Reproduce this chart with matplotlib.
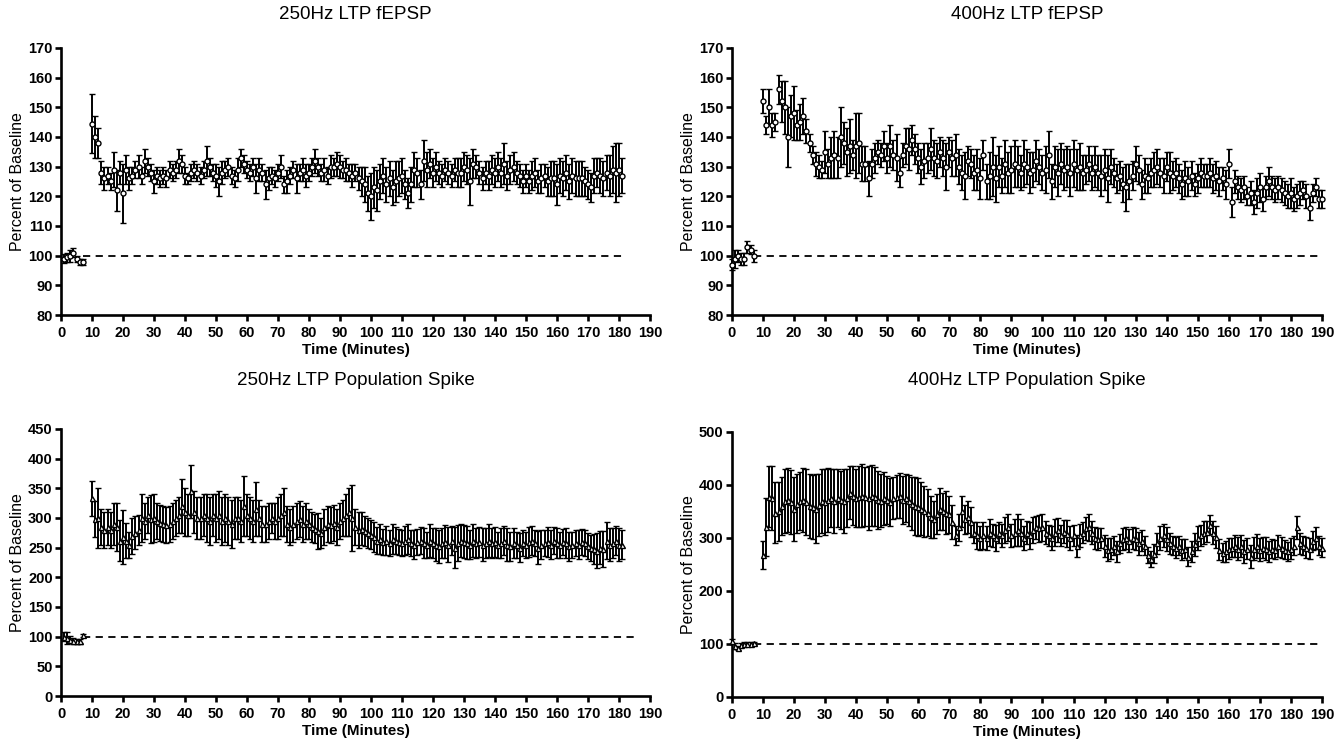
import numpy as np
import matplotlib
matplotlib.use("Agg")
import matplotlib.pyplot as plt

plt.rcParams['font.family'] = ['Liberation Sans', 'DejaVu Sans']

# ---- 250Hz fEPSP ----
fe250_base_t = np.arange(1, 8)
fe250_base = [99, 99.5, 100, 101, 99, 98, 98]
fe250_base_err = [1.5, 1.5, 2, 1.5, 1, 1, 1]
fe250_t = np.arange(10, 182)
fe250 = [
    144.5, 140, 138, 128, 126, 127, 125, 129, 122, 128,
    121, 129, 126, 127, 129, 130, 127, 132, 130, 128,
    125, 127, 126, 127, 126, 129, 128, 129, 132, 131,
    127, 126, 128, 129, 128, 127, 129, 132, 130, 128,
    127, 125, 128, 129, 130, 127, 126, 129, 133, 131,
    129, 128, 130, 126, 129, 128, 124, 126, 127, 126,
    128, 130, 124, 125, 127, 129, 126, 128, 129, 127,
    128, 130, 132, 130, 128, 129, 127, 130, 130, 131,
    130, 129, 129, 128, 127, 128, 126, 125, 124, 121,
    120, 123, 122, 125, 127, 124, 126, 123, 125, 126,
    127, 124, 121, 124, 129, 128, 124, 132, 129, 131,
    128, 130, 128, 127, 129, 128, 127, 129, 128, 128,
    130, 129, 125, 131, 130, 128, 126, 128, 127, 129,
    128, 130, 128, 131, 127, 129, 130, 128, 127, 125,
    127, 125, 127, 128, 125, 126, 127, 125, 126, 126,
    124, 127, 126, 128, 125, 127, 126, 126, 126, 125,
    124, 123, 127, 128, 127, 126, 128, 127, 129, 128,
    129, 127]
fe250_err = [
    10, 7, 5, 4, 4, 3, 3, 6, 7, 4,
    10, 5, 4, 3, 3, 4, 3, 4, 3, 3,
    4, 3, 3, 3, 3, 3, 3, 3, 4, 3,
    3, 2, 3, 3, 3, 3, 3, 5, 3, 3,
    4, 5, 4, 3, 3, 3, 3, 4, 3, 3,
    3, 3, 3, 5, 4, 3, 5, 4, 3, 3,
    3, 4, 3, 4, 3, 3, 5, 3, 4, 4,
    3, 3, 4, 3, 3, 4, 3, 4, 3, 4,
    4, 3, 4, 3, 4, 3, 4, 5, 6, 6,
    8, 7, 7, 6, 6, 6, 6, 6, 7, 6,
    6, 5, 5, 6, 6, 5, 5, 7, 6, 5,
    5, 5, 4, 4, 4, 4, 4, 4, 5, 5,
    5, 5, 8, 5, 4, 4, 4, 4, 5, 5,
    5, 5, 5, 7, 5, 5, 5, 4, 4, 4,
    4, 4, 5, 5, 4, 5, 4, 5, 6, 6,
    7, 6, 6, 6, 6, 6, 6, 6, 6, 5,
    5, 5, 6, 5, 6, 6, 6, 7, 8, 10,
    9, 6]

# ---- 400Hz fEPSP ----
fe400_base_t = np.arange(0, 8)
fe400_base = [97, 99, 100, 99, 99, 103, 102, 100]
fe400_base_err = [2, 3, 2, 2, 2, 2, 1.5, 2]
fe400_t = np.arange(10, 191)
fe400 = [
    152, 144, 150, 144, 145, 156, 152, 150, 140, 147,
    148, 144, 145, 147, 142, 138, 134, 131, 130, 129,
    135, 131, 133, 134, 133, 140, 138, 135, 137, 134,
    137, 138, 131, 131, 126, 131, 133, 135, 134, 137,
    133, 137, 134, 133, 128, 134, 137, 136, 139, 136,
    133, 130, 132, 133, 136, 133, 132, 135, 133, 130,
    135, 133, 134, 130, 128, 127, 132, 131, 128, 129,
    126, 134, 125, 127, 130, 126, 130, 127, 131, 128,
    129, 131, 130, 128, 131, 130, 128, 129, 132, 130,
    128, 129, 134, 125, 130, 128, 131, 129, 130, 128,
    131, 129, 130, 128, 129, 131, 128, 130, 128, 127,
    129, 126, 130, 128, 126, 127, 124, 123, 125, 127,
    131, 129, 124, 127, 126, 128, 129, 130, 128, 127,
    130, 128, 127, 128, 126, 124, 126, 125, 127, 124,
    126, 128, 127, 127, 128, 126, 127, 125, 126, 124,
    131, 118, 125, 123, 122, 123, 120, 121, 118, 121,
    123, 119, 123, 125, 123, 122, 123, 122, 121, 120,
    121, 119, 120, 121, 122, 120, 116, 121, 123, 119,
    119]
fe400_err = [
    4, 3, 6, 4, 3, 5, 7, 9, 10, 7,
    9, 5, 6, 6, 4, 3, 3, 4, 4, 3,
    7, 5, 7, 8, 7, 10, 7, 8, 9, 5,
    11, 10, 6, 6, 6, 5, 5, 4, 4, 5,
    5, 7, 5, 8, 5, 4, 6, 7, 5, 5,
    5, 6, 6, 5, 7, 6, 6, 5, 6, 8,
    5, 6, 7, 6, 6, 8, 5, 5, 6, 7,
    7, 5, 6, 8, 10, 8, 7, 6, 8, 7,
    8, 8, 7, 6, 8, 6, 7, 6, 7, 6,
    6, 8, 8, 6, 7, 8, 7, 7, 7, 8,
    8, 7, 8, 6, 5, 6, 6, 7, 6, 7,
    7, 8, 6, 5, 5, 5, 6, 8, 6, 5,
    6, 5, 5, 6, 5, 5, 6, 6, 5, 6,
    5, 7, 5, 5, 5, 5, 6, 5, 5, 4,
    5, 5, 4, 4, 5, 5, 5, 5, 4, 5,
    5, 5, 4, 4, 4, 4, 3, 4, 4, 5,
    5, 4, 4, 5, 4, 4, 4, 4, 4, 4,
    5, 4, 4, 4, 3, 4, 4, 3, 3, 3,
    3]

# ---- 250Hz population spike ----
ps250_base_t = np.arange(1, 8)
ps250_base = [100, 98, 95, 93, 92, 92, 102]
ps250_base_err = [8, 10, 6, 5, 4, 4, 3]
ps250_t = np.arange(10, 182)
ps250 = [
    333, 298, 300, 285, 280, 285, 280, 290, 285, 262,
    268, 262, 255, 270, 275, 280, 300, 295, 305, 298,
    300, 295, 292, 290, 288, 290, 295, 300, 305, 320,
    310, 305, 345, 310, 300, 300, 305, 300, 295, 305,
    300, 305, 295, 300, 295, 290, 300, 300, 295, 320,
    305, 300, 295, 315, 300, 290, 290, 295, 300, 295,
    300, 305, 310, 290, 285, 290, 295, 298, 290, 295,
    290, 285, 282, 278, 275, 285, 290, 288, 292, 285,
    295, 300, 305, 310, 300, 285, 280, 282, 278, 275,
    272, 268, 262, 265, 260, 262, 258, 265, 262, 260,
    258, 262, 265, 258, 255, 260, 262, 258, 255, 262,
    258, 255, 252, 258, 260, 255, 262, 250, 258, 262,
    260, 258, 255, 262, 258, 260, 255, 258, 262, 258,
    260, 255, 258, 262, 255, 252, 258, 255, 250, 258,
    255, 260, 262, 258, 250, 255, 258, 260, 255, 262,
    258, 255, 260, 258, 252, 255, 258, 255, 260, 258,
    252, 250, 248, 245, 250, 248, 262, 255, 258, 262,
    255, 255]
ps250_err = [
    30, 30, 50, 30, 30, 30, 30, 35, 40, 35,
    45, 30, 22, 30, 28, 25, 40, 30, 30, 40,
    40, 30, 30, 30, 30, 30, 30, 30, 30, 45,
    40, 35, 45, 35, 35, 35, 35, 40, 40, 35,
    40, 40, 40, 40, 40, 40, 35, 35, 35, 50,
    35, 35, 35, 45, 30, 30, 30, 30, 25, 30,
    35, 35, 40, 30, 30, 30, 30, 30, 30, 30,
    25, 25, 25, 30, 25, 30, 30, 30, 30, 30,
    30, 30, 35, 40, 55, 30, 30, 28, 25, 25,
    25, 25, 22, 25, 22, 25, 22, 25, 22, 22,
    22, 25, 25, 22, 25, 22, 22, 25, 22, 28,
    25, 28, 28, 25, 28, 30, 25, 35, 30, 28,
    28, 28, 25, 28, 25, 25, 28, 25, 28, 25,
    25, 22, 25, 25, 28, 25, 25, 22, 25, 22,
    22, 25, 25, 22, 28, 25, 22, 25, 25, 22,
    25, 22, 22, 25, 25, 22, 22, 25, 22, 22,
    22, 22, 25, 30, 28, 30, 32, 28, 25, 25,
    28, 25]

# ---- 400Hz population spike ----
ps400_base_t = np.arange(0, 8)
ps400_base = [105, 96, 93, 98, 100, 100, 100, 101]
ps400_base_err = [5, 6, 4, 4, 3, 3, 3, 3]
ps400_t = np.arange(10, 191)
ps400 = [
    268, 321, 378, 375, 348, 350, 360, 370, 372, 368,
    355, 365, 370, 372, 368, 360, 358, 355, 362, 370,
    368, 372, 375, 370, 375, 372, 370, 375, 385, 380,
    375, 378, 380, 378, 375, 380, 378, 372, 370, 375,
    372, 368, 375, 378, 380, 372, 375, 370, 365, 360,
    358, 355, 350, 348, 340, 335, 345, 355, 350, 348,
    345, 330, 305, 320, 350, 335, 340, 330, 310, 305,
    300, 305, 300, 310, 305, 300, 310, 305, 315, 320,
    305, 310, 315, 310, 300, 310, 305, 315, 320, 318,
    320, 310, 305, 300, 310, 315, 305, 312, 308, 300,
    305, 285, 305, 310, 318, 320, 310, 300, 298, 300,
    285, 278, 280, 285, 275, 290, 298, 300, 295, 300,
    298, 290, 295, 285, 268, 260, 270, 290, 300, 305,
    298, 290, 285, 282, 285, 278, 280, 265, 275, 288,
    300, 305, 310, 312, 325, 310, 302, 278, 272, 275,
    280, 282, 285, 280, 285, 275, 280, 265, 280, 285,
    278, 282, 280, 275, 280, 278, 285, 282, 278, 275,
    280, 285, 320, 290, 285, 282, 280, 295, 300, 285,
    282]
ps400_err = [
    26, 55, 58, 60, 58, 55, 55, 60, 60, 60,
    60, 55, 55, 60, 62, 60, 60, 65, 58, 60,
    62, 60, 55, 60, 55, 55, 60, 55, 50, 55,
    55, 58, 60, 55, 60, 58, 55, 55, 50, 50,
    45, 45, 40, 40, 42, 45, 45, 48, 50, 55,
    55, 50, 48, 45, 40, 35, 38, 40, 35, 40,
    35, 32, 18, 25, 30, 28, 30, 28, 20, 25,
    22, 25, 22, 25, 22, 25, 20, 22, 25, 25,
    22, 25, 30, 25, 22, 22, 25, 25, 22, 25,
    25, 22, 20, 22, 25, 22, 20, 22, 25, 22,
    20, 20, 22, 20, 22, 25, 22, 20, 20, 18,
    20, 22, 20, 18, 20, 18, 20, 20, 22, 20,
    20, 22, 20, 18, 15, 15, 18, 20, 22, 22,
    22, 20, 18, 20, 18, 20, 18, 18, 20, 22,
    22, 20, 22, 20, 18, 22, 20, 20, 18, 20,
    20, 18, 20, 22, 20, 22, 20, 22, 22, 22,
    22, 20, 22, 20, 18, 18, 20, 20, 18, 18,
    20, 18, 22, 20, 18, 20, 20, 18, 20, 18,
    18]

titles = ["250Hz LTP fEPSP", "400Hz LTP fEPSP",
          "250Hz LTP Population Spike", "400Hz LTP Population Spike"]

panels = [
    (fe250_base_t, fe250_base, fe250_base_err, fe250_t, fe250, fe250_err,
     "o", (80, 170), np.arange(80, 171, 10), 181),
    (fe400_base_t, fe400_base, fe400_base_err, fe400_t, fe400, fe400_err,
     "o", (80, 170), np.arange(80, 171, 10), 190),
    (ps250_base_t, ps250_base, ps250_base_err, ps250_t, ps250, ps250_err,
     "^", (0, 450), np.arange(0, 451, 50), 186),
    (ps400_base_t, ps400_base, ps400_base_err, ps400_t, ps400, ps400_err,
     "^", (0, 500), np.arange(0, 501, 100), 190),
]

rects = [
    [0.0454, 0.5766, 0.4382, 0.359],
    [0.5446, 0.5766, 0.4390, 0.359],
    [0.0454, 0.0645, 0.4382, 0.359],
    [0.5446, 0.0632, 0.4390, 0.3562],
]
# title heights (figure fraction)
title_y = [0.980, 0.980, 0.488, 0.488]

fig = plt.figure(figsize=(13.44, 7.44), dpi=100)

for rect, ty, title, (bt, by, be, pt, py, pe, mk, ylim, yt, dash_end) in zip(rects, title_y, titles, panels):
    ax = fig.add_axes(rect)
    ax.hlines(100, 7, dash_end, colors="black", linestyles=(0, (4, 3)), lw=1.3, zorder=1)
    for t, y, e in [(bt, by, be), (pt, py, pe)]:
        ax.errorbar(t, y, yerr=e, fmt=mk, color="black", ms=3.6, mfc="white",
                    mec="black", mew=1.0, elinewidth=1.4, capsize=2.5, capthick=1.4,
                    zorder=3, clip_on=False)
    ax.set_xlim(0, 190)
    ax.set_ylim(*ylim)
    ax.set_xticks(np.arange(0, 191, 10))
    ax.set_yticks(yt)
    for s in ["top", "right"]:
        ax.spines[s].set_visible(False)
    for s in ["left", "bottom"]:
        ax.spines[s].set_linewidth(1.9)
    ax.tick_params(direction="out", length=4, width=1.9, labelsize=10.5, pad=2)
    ax.tick_params(axis="x", pad=4)
    for lab in ax.get_xticklabels() + ax.get_yticklabels():
        lab.set_fontweight("bold")
    fig.text(rect[0] + rect[2] / 2, ty, title, fontsize=13.5, ha="center", va="center")
    ax.set_ylabel("Percent of Baseline", fontsize=11.5, labelpad=2)
    ax.set_xlabel("Time (Minutes)", fontsize=11, fontweight="bold", labelpad=2)

fig.savefig("out.png", dpi=100)
